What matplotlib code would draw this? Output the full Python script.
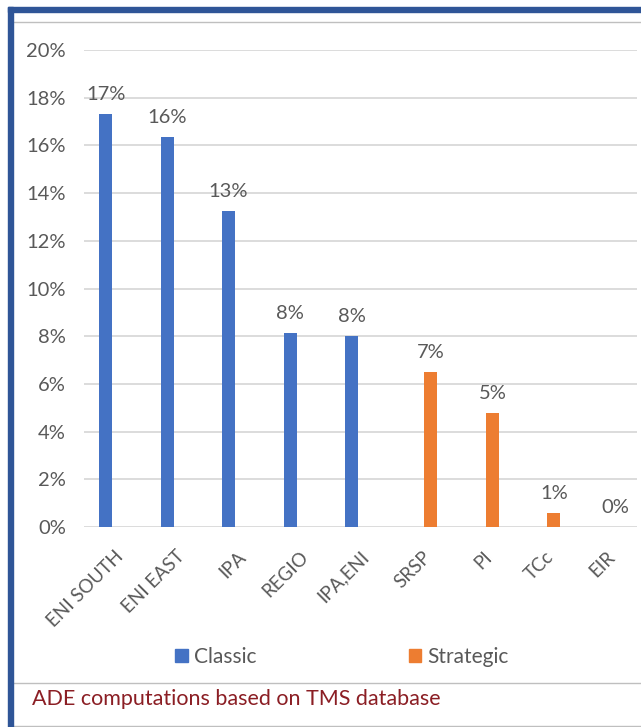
import matplotlib.pyplot as plt
from matplotlib.patches import Rectangle
from matplotlib.lines import Line2D
import numpy as np

plt.rcParams['font.family'] = ['Lato', 'DejaVu Sans']

categories = ["ENI SOUTH", "ENI EAST", "IPA", "REGIO", "IPA,ENI", "SRSP", "PI", "TCc", "EIR"]
classic = [17.3, 16.35, 13.25, 8.15, 8.0, None, None, None, None]
strategic = [None, None, None, None, None, 6.5, 4.78, 0.6, 0.0]
classic_labels = ["17%", "16%", "13%", "8%", "8%"]
strategic_labels = ["7%", "5%", "1%", "0%"]
yticks = [0, 2, 4, 6, 8, 10, 12, 14, 16, 18, 20]

BLUE = "#4472C4"
ORANGE = "#ED7D31"
TXT = "#595959"

W, H = 641, 727
fig = plt.figure(figsize=(W / 100, H / 100), dpi=100)
ax = fig.add_axes([84 / W, (H - 527) / H, (637 - 84) / W, (527 - 50) / H])

x = np.arange(len(categories))
bw = 13 / 61.4
off = 9 / 61.4

cx = [i for i, v in enumerate(classic) if v is not None]
cv = [v for v in classic if v is not None]
sx = [i for i, v in enumerate(strategic) if v is not None]
sv = [v for v in strategic if v is not None]

ax.bar(np.array(cx) - off, cv, width=bw, color=BLUE, label="Classic", zorder=3)
ax.bar(np.array(sx) + off, sv, width=bw, color=ORANGE, label="Strategic", zorder=3)

for xi, v, lab in zip(cx, cv, classic_labels):
    ax.annotate(lab, (xi - off, v), xytext=(0, 8), textcoords="offset points",
                ha="center", va="bottom", fontsize=14.5, color=TXT)
for xi, v, lab in zip(sx, sv, strategic_labels):
    ax.annotate(lab, (xi + off, v), xytext=(0, 8), textcoords="offset points",
                ha="center", va="bottom", fontsize=14.5, color=TXT)

ax.set_xlim(-0.5, len(categories) - 0.5)
ax.set_ylim(0, 20)
ax.set_yticks(yticks)
ax.set_yticklabels([f"{t}%" for t in yticks], fontsize=14.5, color=TXT)
ax.set_xticks(x)
ax.set_xticklabels(categories, rotation=45, ha="right", rotation_mode="anchor",
                   fontsize=13.5, color=TXT)
ax.tick_params(axis="both", length=0)
ax.tick_params(axis="y", pad=13)
ax.tick_params(axis="x", pad=15)
ax.grid(axis="y", color="#D9D9D9", linewidth=1.3, zorder=0)
for s in ax.spines.values():
    s.set_visible(False)

handles = [Rectangle((0, 0), 1, 1, color=BLUE), Rectangle((0, 0), 1, 1, color=ORANGE)]
fig.legend(handles, ["Classic", "Strategic"], loc="center", ncol=2,
           bbox_to_anchor=(342 / W, (H - 657) / H), frameon=False, fontsize=15,
           handlelength=0.6, handleheight=0.6, handletextpad=0.3, columnspacing=7.3,
           labelcolor=TXT)

# frame and caption
fig.add_artist(Rectangle((8 / W, 0), 5 / W, (H - 7) / H, transform=fig.transFigure,
                         color="#2F5597", zorder=5))
fig.add_artist(Rectangle((8 / W, (H - 12) / H), 1 - 8 / W, 5 / H, transform=fig.transFigure,
                         color="#2F5597", zorder=5))
for yy in [22, 683, 726]:
    fig.add_artist(Line2D([13 / W, 1], [(H - yy) / H] * 2, transform=fig.transFigure,
                          color="#BFBFBF", linewidth=1))
fig.text(32 / W, (H - 699) / H, "ADE computations based on TMS database",
         fontsize=15.5, color="#8B1E24", va="center", ha="left")

fig.savefig("out.png", dpi=100)
